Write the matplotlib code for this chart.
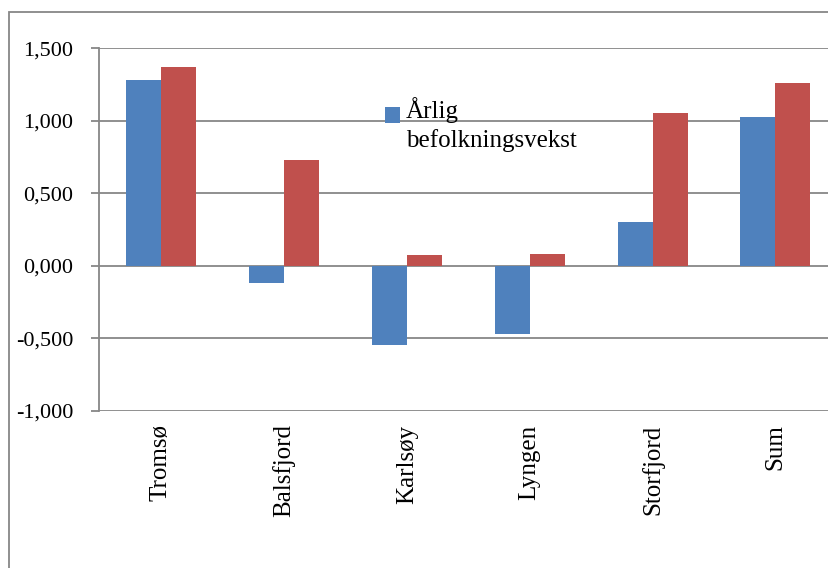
import matplotlib
matplotlib.use('Agg')
import matplotlib.pyplot as plt
from matplotlib.patches import Rectangle
from matplotlib.legend_handler import HandlerPatch
from matplotlib.container import BarContainer
import numpy as np

# Data
kommuner = ['Tromsø', 'Balsfjord', 'Karlsøy', 'Lyngen', 'Storfjord', 'Sum']
arlig_vekst = [1.279, -0.117, -0.547, -0.474, 0.300, 1.028]
annen_serie = [1.369, 0.731, 0.076, 0.079, 1.056, 1.263]
y_ticks = [-1.0, -0.5, 0.0, 0.5, 1.0, 1.5]

plt.rcParams['font.family'] = ['Liberation Serif', 'DejaVu Serif']
plt.rcParams['font.size'] = 16

fig = plt.figure(figsize=(8.29, 5.68), dpi=100)
ax = fig.add_axes([0.12, 0.2771, 0.8895, 0.6379])

x = np.arange(len(kommuner))
w = 0.285
grid_col = '#878787'

ax.bar(x - w / 2, arlig_vekst, width=w, color='#4F81BD', label='Årlig\nbefolkningsvekst', zorder=3)
ax.bar(x + w / 2, annen_serie, width=w, color='#C0504D', zorder=3)

ax.set_xlim(-0.5, len(kommuner) - 0.5)
ax.set_ylim(-1.0, 1.5)
ax.set_yticks(y_ticks)
ax.set_yticklabels([f'{v:.3f}'.replace('.', ',') for v in y_ticks])
ax.set_xticks(x)
ax.set_xticklabels(kommuner, rotation=90, va='top', fontsize=18)

ax.yaxis.grid(True, color=grid_col, linewidth=1.3)
ax.set_axisbelow(True)
ax.tick_params(axis='y', length=6, width=1.3, color=grid_col, pad=13)
ax.tick_params(axis='x', length=0, pad=10)

for s in ['top', 'right', 'bottom']:
    ax.spines[s].set_visible(False)
ax.spines['left'].set_color(grid_col)
ax.spines['left'].set_linewidth(1.3)


# legend key sits next to the first line of the two-line label
def top_square(legend, orig_handle, xdescent, ydescent, width, height, fontsize):
    return Rectangle((-xdescent, -ydescent + 7), width, height)


def from_first_bar(tgt, src):
    tgt.update_from(src.patches[0])


leg = ax.legend(loc='upper left', bbox_to_anchor=(0.387, 0.865), frameon=False,
                borderpad=0, borderaxespad=0,
                handlelength=0.6, handleheight=0.6, handletextpad=0.25, fontsize=18,
                handler_map={BarContainer: HandlerPatch(patch_func=top_square,
                                                        update_func=from_first_bar)})
for t in leg.get_texts():
    t.set_linespacing(1.35)

# outer chart frame (only the left and top edges are visible)
fig.patches.append(Rectangle((9 / 829, -0.5), 2.0, 1.5 - 12 / 568, transform=fig.transFigure,
                             fill=False, edgecolor=grid_col, linewidth=1.3))

fig.savefig('out.png', dpi=100)
